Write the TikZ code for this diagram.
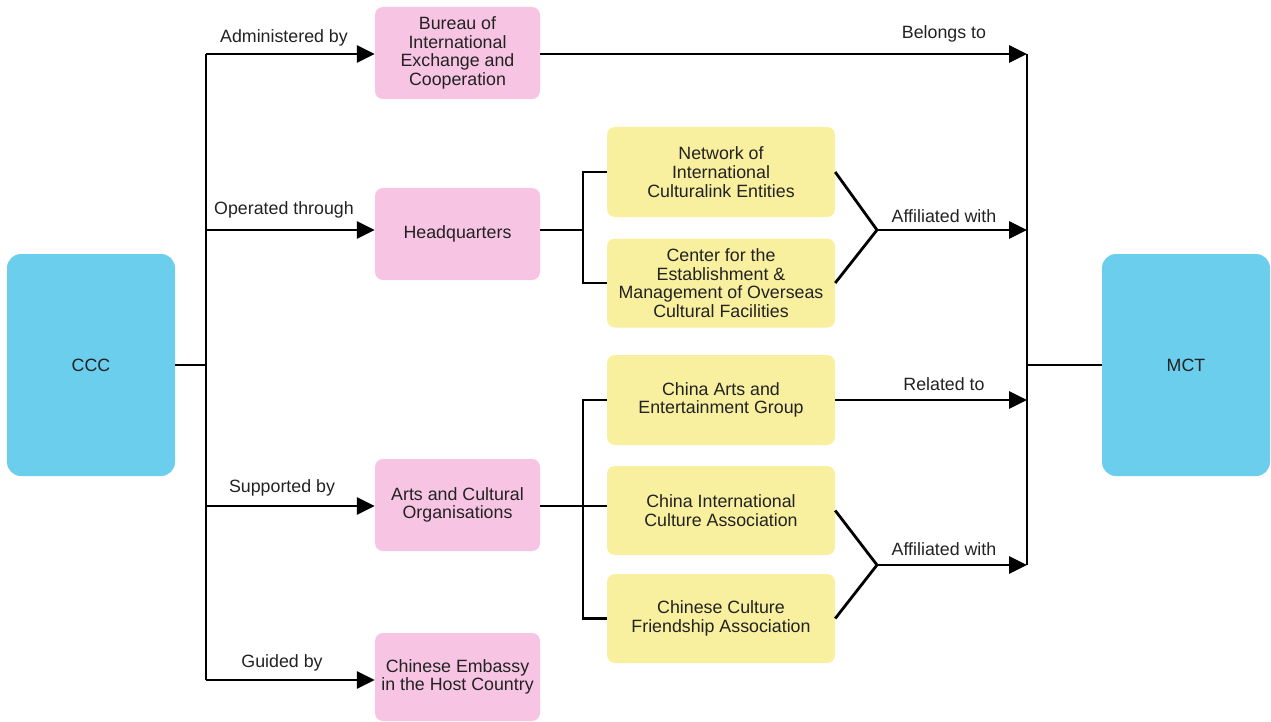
\documentclass[tikz,border=0pt]{standalone}
\usepackage{fontspec}
\setmainfont{Liberation Sans}
\usetikzlibrary{arrows.meta}
\definecolor{bluebox}{HTML}{6BCEEC}
\definecolor{pinkbox}{HTML}{F7C5E3}
\definecolor{yellowbox}{HTML}{F8F09E}
\definecolor{textcol}{HTML}{222222}
\begin{document}
\begin{tikzpicture}[x=1pt,y=-1pt,
  every node/.style={font=\fontsize{17.8}{18.7}\selectfont, text=textcol},
  bigbox/.style={rectangle, rounded corners=14pt, fill=bluebox, minimum width=168pt, minimum height=222pt, align=center, inner sep=0pt},
  pinkb/.style={rectangle, rounded corners=8pt, fill=pinkbox, minimum width=165pt, minimum height=92pt, align=center, inner sep=0pt},
  yelb/.style={rectangle, rounded corners=8pt, fill=yellowbox, minimum width=228pt, minimum height=90pt, align=center, inner sep=0pt},
  conn/.style={line width=2.8pt, black},
  arr/.style={conn, -{Triangle[length=18pt,width=17pt]}},
  lbl/.style={inner sep=0pt}
]
\useasboundingbox (0,0) rectangle (1271,722);

% main boxes
\node[bigbox] (ccc) at (91,365) {CCC};
\node[bigbox] (mct) at (1186,365) {MCT};

% pink boxes
\node[pinkb] (bureau) at (457.5,53) {Bureau of\\International\\Exchange and\\Cooperation};
\node[pinkb] (hq) at (457.5,234) {Headquarters};
\node[pinkb] (arts) at (457.5,505) {Arts and Cultural\\Organisations};
\node[pinkb, minimum height=88pt] (embassy) at (457.5,677) {Chinese Embassy\\in the Host Country};

% yellow boxes
\node[yelb] (network) at (721,172) {Network of\\International\\Culturalink Entities};
\node[yelb, minimum height=89pt] (center) at (721,283) {Center for the\\Establishment \&\\Management of Overseas\\Cultural Facilities};
\node[yelb] (chinaarts) at (721,400) {China Arts and\\Entertainment Group};
\node[yelb, minimum height=89pt] (cica) at (721,510.5) {China International\\Culture Association};
\node[yelb, minimum height=89pt] (ccfa) at (721,618.5) {Chinese Culture\\Friendship Association};

% junction coordinates
\coordinate (jl) at (206,365);
\coordinate (t1) at (206,54);
\coordinate (t2) at (206,230);
\coordinate (t3) at (206,506);
\coordinate (t4) at (206,680);
\coordinate (r1) at (1027,54);
\coordinate (r2) at (1027,230);
\coordinate (r4) at (1027,565);
\coordinate (rm) at (1027,365);
\coordinate (b1) at (583,230);
\coordinate (b2) at (583,506);
\coordinate (m1) at (877,230);
\coordinate (m2) at (877,565);

% left trunk
\draw[line width=2.2pt] (ccc.east) -- (jl);
\draw[conn] (t1) -- (t4);
\draw[arr] (t1) -- (t1 -| bureau.west);
\draw[arr] (t2) -- (t2 -| hq.west);
\draw[arr] (t3) -- (t3 -| arts.west);
\draw[arr] (t4) -- (t4 -| embassy.west);

% right trunk
\draw[conn] (r1) -- (r4);
\draw[line width=2.2pt] (rm) -- (mct.west);
\draw[arr] (bureau.east |- r1) -- (r1);

% HQ branch
\draw[conn] (hq.east |- b1) -- (b1);
\draw[conn] (network.west) -| (b1);
\draw[conn] (center.west) -| (b1);
\draw[conn, line join=miter] (network.east) -- (m1) -- (center.east);
\draw[arr] (m1) -- (r2);

% Arts branch
\draw[conn] (arts.east |- b2) -- (cica.west |- b2);
\draw[conn] (chinaarts.west) -| (b2);
\draw[conn] (ccfa.west) -| (b2);
\draw[arr] (chinaarts.east) -- (chinaarts.east -| r1);
\draw[conn, line join=miter] (cica.east) -- (m2) -- (ccfa.east);
\draw[arr] (m2) -- (r4);

% labels
\node[lbl] (l1) at (284,38) {Administered by};
\node[lbl] (l2) at (284,210) {Operated through};
\node[lbl] (l3) at (282,488) {Supported by};
\node[lbl] (l4) at (282,663) {Guided by};
\node[lbl] (l5) at (944,34) {Belongs to};
\node[lbl] (l6) at (944,216) {Affiliated with};
\node[lbl] (l7) at (944,384) {Related to};
\node[lbl] (l8) at (944,549) {Affiliated with};
\end{tikzpicture}
\end{document}
